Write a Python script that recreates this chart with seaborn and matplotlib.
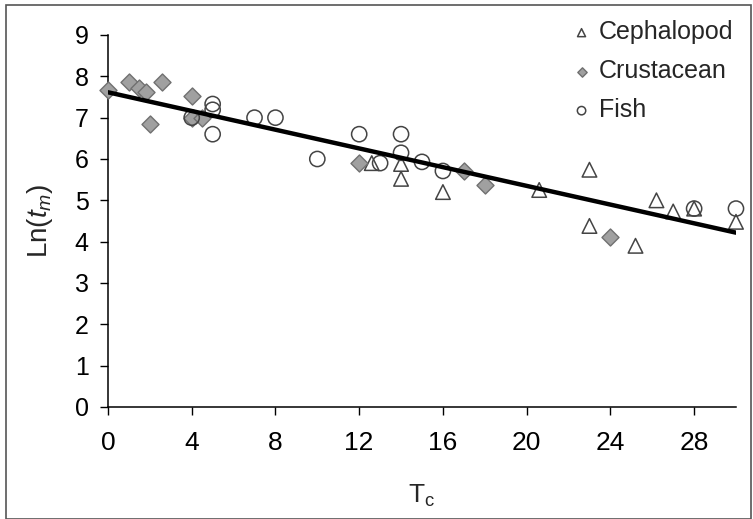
import numpy as np
import pandas as pd
import matplotlib
matplotlib.use("Agg")
import matplotlib.pyplot as plt
import seaborn as sns
from matplotlib.patches import Rectangle

# ---- data ----
ceph_x = [12.6, 14.0, 14.0, 16.0, 20.6, 23.0, 23.0, 25.2, 26.2, 27.0, 28.0, 30.0]
ceph_y = [5.90, 5.88, 5.52, 5.20, 5.25, 5.74, 4.38, 3.90, 5.00, 4.73, 4.80, 4.48]

crus_x = [0.0, 1.0, 1.5, 1.8, 2.6, 2.0, 4.0, 4.0, 4.5, 12.0, 17.0, 18.0, 24.0]
crus_y = [7.67, 7.87, 7.72, 7.63, 7.87, 6.85, 7.53, 7.00, 7.00, 5.91, 5.72, 5.37, 4.12]

fish_x = [4.0, 5.0, 5.0, 5.0, 7.0, 8.0, 10.0, 12.0, 13.0, 14.0, 14.0, 15.0, 16.0, 28.0, 30.0]
fish_y = [7.00, 7.33, 7.19, 6.60, 7.00, 7.00, 6.00, 6.60, 5.90, 6.60, 6.15, 5.93, 5.71, 4.80, 4.80]

groups = ["Cephalopod", "Crustacean", "Fish"]
x_ticks = [0, 4, 8, 12, 16, 20, 24, 28]
y_ticks = [0, 1, 2, 3, 4, 5, 6, 7, 8, 9]

df = pd.concat([
    pd.DataFrame({"T": ceph_x, "L": ceph_y, "group": "Cephalopod"}),
    pd.DataFrame({"T": crus_x, "L": crus_y, "group": "Crustacean"}),
    pd.DataFrame({"T": fish_x, "L": fish_y, "group": "Fish"}),
], ignore_index=True)

sns.set_style("ticks")
plt.rcParams["font.family"] = ["Liberation Sans", "DejaVu Sans"]
plt.rcParams["mathtext.fontset"] = "custom"
plt.rcParams["mathtext.rm"] = "Liberation Sans"
plt.rcParams["mathtext.it"] = "Liberation Sans:italic"

fig = plt.figure(figsize=(7.53, 5.19), dpi=100)
ax = fig.add_axes([0.1434, 0.2158, 0.834, 0.7168])

styles = {
    "Cephalopod": dict(marker="^", facecolor="none", edgecolor="#444444", s=110, linewidth=1.1),
    "Crustacean": dict(marker="D", facecolor="#a0a0a0", edgecolor="#707070", s=75, linewidth=1.0),
    "Fish": dict(marker="o", facecolor="none", edgecolor="#444444", s=120, linewidth=1.1),
}
for g in groups:
    sub = df[df["group"] == g]
    sns.scatterplot(data=sub, x="T", y="L", ax=ax, label=g, zorder=3, clip_on=False, **styles[g])

sns.regplot(data=df, x="T", y="L", ax=ax, scatter=False, ci=None,
            color="black", line_kws=dict(linewidth=3.2, zorder=4))

ax.set_xlim(0, 30)
ax.set_ylim(0, 9)
ax.set_xticks(x_ticks)
ax.set_yticks(y_ticks)
ax.tick_params(axis="both", direction="out", length=6, width=1, colors="black")
ax.tick_params(axis="x", labelsize=19, pad=11)
ax.tick_params(axis="y", labelsize=18, pad=8)
sns.despine(ax=ax)
for sp in ["left", "bottom"]:
    ax.spines[sp].set_linewidth(1.1)
    ax.spines[sp].set_color("black")

ax.set_xlabel(r"T$_\mathrm{c}$", fontsize=19, labelpad=20)
ax.set_ylabel(r"Ln($t_m$)", fontsize=20, labelpad=14)

leg = ax.legend(loc="upper right", bbox_to_anchor=(1.02, 1.08), frameon=False, fontsize=18,
                markerscale=0.55, handlelength=0.8, handletextpad=0.3, labelspacing=0.6,
                borderaxespad=0.2)

fig.patches.append(Rectangle((0.008, 0.0), 0.99, 0.99, transform=fig.transFigure,
                             fill=False, edgecolor="#555555", linewidth=1.2))

fig.savefig("out.png", dpi=100)
